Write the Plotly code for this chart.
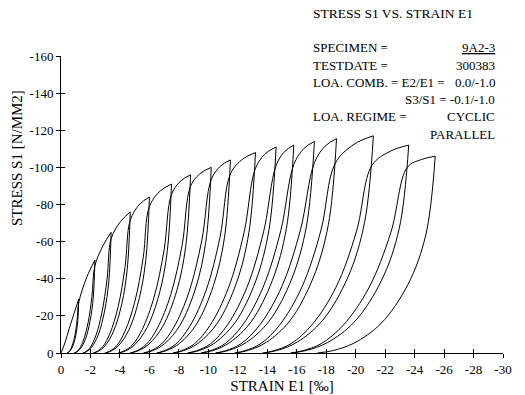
import plotly.graph_objects as go

# ---- data (strain in per mille, stress in N/mm2) ----
# loading / reloading branches: residual strain -> crossing point -> envelope -> peak
reload_e = [
    [0, -0.2, -0.65, -1.2],
    [-0.4, -0.48, -0.61, -0.76, -0.94, -1.09, -1.2, -1.75, -2.3],
    [-0.9, -1.04, -1.26, -1.53, -1.84, -2.10, -2.3, -2.85, -3.4],
    [-1.5, -1.69, -1.99, -2.36, -2.77, -3.13, -3.4, -4.05, -4.7],
    [-2.2, -2.45, -2.85, -3.33, -3.88, -4.35, -4.7, -5.35, -6.0],
    [-3.0, -3.3, -3.78, -4.35, -5.01, -5.58, -6.0, -6.75, -7.5],
    [-3.9, -4.26, -4.84, -5.52, -6.31, -7.0, -7.5, -8.15, -8.8],
    [-4.7, -5.11, -5.77, -6.55, -7.45, -8.23, -8.8, -9.5, -10.2],
    [-5.6, -6.06, -6.8, -7.67, -8.68, -9.56, -10.2, -10.85, -11.5],
    [-6.5, -7.0, -7.8, -8.75, -9.85, -10.8, -11.5, -12.35, -13.2],
    [-7.6, -8.16, -9.06, -10.12, -11.35, -12.42, -13.2, -13.9, -14.6],
    [-8.6, -9.2, -10.16, -11.3, -12.62, -13.76, -14.6, -15.2, -15.8],
    [-9.5, -10.13, -11.14, -12.34, -13.72, -14.92, -15.8, -16.5, -17.2],
    [-10.5, -11.17, -12.24, -13.52, -14.99, -16.26, -17.2, -17.95, -18.7],
    [-11.8, -12.48, -13.57, -14.86, -16.36, -17.65, -18.6, -19.9, -21.2],
    [-13.7, -14.44, -15.62, -17.03, -18.66, -20.06, -21.1, -22.35, -23.6],
    [-15.6, -16.39, -17.65, -19.16, -20.89, -22.39, -23.5, -24.45, -25.4],
]
reload_s = [
    [0, -4, -15.5, -29],
    [0, -0.32, -1.35, -4.05, -9.45, -17.55, -27, -40.8, -50],
    [0, -0.56, -2.35, -7.05, -16.45, -30.55, -47, -57.8, -65],
    [0, -0.74, -3.08, -9.23, -21.5, -40.0, -61.5, -70.9, -76],
    [0, -0.86, -3.58, -10.7, -25.0, -46.5, -71.5, -80.25, -84],
    [0, -0.95, -3.95, -11.85, -27.65, -51.35, -79, -87.4, -91],
    [0, -1.03, -4.28, -12.8, -29.9, -55.6, -85.5, -92.85, -96],
    [0, -1.08, -4.5, -13.5, -31.5, -58.5, -90, -97, -100],
    [0, -1.12, -4.68, -14.0, -32.7, -60.8, -93.5, -100.85, -104],
    [0, -1.16, -4.83, -14.5, -33.8, -62.7, -96.5, -104.55, -108],
    [0, -1.19, -4.98, -14.9, -34.8, -64.7, -99.5, -107.55, -111],
    [0, -1.21, -5.05, -15.15, -35.35, -65.65, -101, -108.7, -112],
    [0, -1.22, -5.08, -15.2, -35.5, -66.0, -101.5, -110.25, -114],
    [0, -1.23, -5.13, -15.4, -35.9, -66.6, -102.5, -111.6, -115.5],
    [0, -1.22, -5.1, -15.3, -35.7, -66.3, -102, -112.5, -117],
    [0, -1.21, -5.05, -15.15, -35.35, -65.65, -101, -108.7, -112],
    [0, -1.2, -5, -15, -35, -65, -100, -104.2, -106],
]
# unloading branches: peak -> residual strain
unload_e = [
    [-1.2, -1.14, -1.02, -0.83, -0.65, -0.5, -0.4],
    [-2.3, -2.19, -1.98, -1.66, -1.33, -1.08, -0.9],
    [-3.4, -3.25, -2.96, -2.53, -2.09, -1.75, -1.5],
    [-4.7, -4.5, -4.13, -3.55, -2.98, -2.53, -2.2],
    [-6.0, -5.76, -5.31, -4.62, -3.93, -3.39, -3.0],
    [-7.5, -7.21, -6.67, -5.84, -5.02, -4.37, -3.9],
    [-8.8, -8.47, -7.86, -6.91, -5.97, -5.23, -4.7],
    [-10.2, -9.83, -9.14, -8.08, -7.03, -6.2, -5.6],
    [-11.5, -11.1, -10.35, -9.2, -8.05, -7.15, -6.5],
    [-13.2, -12.75, -11.91, -10.62, -9.34, -8.33, -7.6],
    [-14.6, -14.12, -13.22, -11.84, -10.46, -9.38, -8.6],
    [-15.8, -15.3, -14.35, -12.9, -11.45, -10.32, -9.5],
    [-17.2, -16.66, -15.66, -14.12, -12.58, -11.37, -10.5],
    [-18.7, -18.15, -17.11, -15.53, -13.94, -12.7, -11.8],
    [-21.2, -20.6, -19.48, -17.75, -16.03, -14.68, -13.7],
    [-23.6, -22.96, -21.76, -19.92, -18.08, -16.64, -15.6],
    [-25.4, -24.76, -23.56, -21.72, -19.88, -18.44, -17.4],
]
unload_s = [
    [-29, -17.4, -10.15, -4.35, -1.45, -0.35, 0],
    [-50, -30, -17.5, -7.5, -2.5, -0.6, 0],
    [-65, -39, -22.75, -9.75, -3.25, -0.78, 0],
    [-76, -45.6, -26.6, -11.4, -3.8, -0.91, 0],
    [-84, -50.4, -29.4, -12.6, -4.2, -1.0, 0],
    [-91, -54.6, -31.85, -13.65, -4.55, -1.09, 0],
    [-96, -57.6, -33.6, -14.4, -4.8, -1.15, 0],
    [-100, -60, -35, -15, -5, -1.2, 0],
    [-104, -62.4, -36.4, -15.6, -5.2, -1.25, 0],
    [-108, -64.8, -37.8, -16.2, -5.4, -1.3, 0],
    [-111, -66.6, -38.85, -16.65, -5.55, -1.33, 0],
    [-112, -67.2, -39.2, -16.8, -5.6, -1.34, 0],
    [-114, -68.4, -39.9, -17.1, -5.7, -1.37, 0],
    [-115.5, -69.3, -40.4, -17.3, -5.78, -1.39, 0],
    [-117, -70.2, -40.95, -17.55, -5.85, -1.4, 0],
    [-112, -67.2, -39.2, -16.8, -5.6, -1.34, 0],
    [-106, -63.6, -37.1, -15.9, -5.3, -1.27, 0],
]

x_tickvals = [0, -2, -4, -6, -8, -10, -12, -14, -16, -18, -20, -22, -24, -26, -28, -30]
x_ticktext = ["0", "-2", "-4", "-6", "-8", "-10", "-12", "-14", "-16", "-18",
              "-20", "-22", "-24", "-26", "-28", "-30"]
y_tickvals = [0, -20, -40, -60, -80, -100, -120, -140, -160]
y_ticktext = ["0", "-20", "-40", "-60", "-80", "-100", "-120", "-140", "-160"]

# ---- build a single path with gaps between branches ----
xs, ys = [], []
for re_, rs_, ue_, us_ in zip(reload_e, reload_s, unload_e, unload_s):
    xs += re_ + [None] + ue_ + [None]
    ys += rs_ + [None] + us_ + [None]

FONT = "Liberation Serif, Times New Roman, serif"

fig = go.Figure()
fig.add_trace(go.Scatter(
    x=xs, y=ys, mode="lines",
    line=dict(color="black", width=1, shape="spline", smoothing=1.0),
    connectgaps=False, hoverinfo="skip", showlegend=False,
))
# invisible trace for the overlay axes (inner halves of the crossing ticks)
fig.add_trace(go.Scatter(x=[0], y=[0], xaxis="x2", yaxis="y2", mode="markers",
                         marker=dict(opacity=0), showlegend=False, hoverinfo="skip"))

axis_common = dict(showgrid=False, zeroline=False, color="black",
                   tickfont=dict(family=FONT, size=13, color="black"))

fig.update_layout(
    width=525, height=395,
    margin=dict(l=61, r=22, t=56, b=42, autoexpand=False),
    paper_bgcolor="white", plot_bgcolor="white",
    font=dict(family=FONT, color="black"),
    xaxis=dict(range=[0, -30], tickmode="array", tickvals=x_tickvals, ticktext=x_ticktext,
               ticks="outside", ticklen=4, tickwidth=1, tickcolor="black",
               showline=True, linecolor="black", linewidth=1,
               title=dict(text="STRAIN E1 [‰]", font=dict(family=FONT, size=15), standoff=4),
               automargin=False, **axis_common),
    yaxis=dict(range=[0, -160], tickmode="array", tickvals=y_tickvals, ticktext=y_ticktext,
               ticks="outside", ticklen=4, tickwidth=1, tickcolor="black",
               showline=True, linecolor="black", linewidth=1,
               automargin=False, **axis_common),
    xaxis2=dict(overlaying="x", anchor="y", side="bottom", range=[0, -30],
                tickmode="array", tickvals=x_tickvals, ticks="inside", ticklen=4,
                tickwidth=1, tickcolor="black", showticklabels=False, showline=False,
                showgrid=False, zeroline=False),
    yaxis2=dict(overlaying="y", anchor="x", side="left", range=[0, -160],
                tickmode="array", tickvals=y_tickvals, ticks="inside", ticklen=4,
                tickwidth=1, tickcolor="black", showticklabels=False, showline=False,
                showgrid=False, zeroline=False),
)

# ---- texts (positions in pixels converted to paper coordinates) ----
PL, PW, PB, PH = 61, 442, 353, 297


def px(x):
    return (x - PL) / PW


def py(y):
    return (PB - y) / PH


# y-axis title (placed above the plot centre, as in the reference)
fig.add_annotation(text="STRESS S1 [N/MM2]", xref="paper", yref="paper",
                   x=px(17), y=py(158), textangle=-90, xanchor="center", yanchor="middle",
                   showarrow=False, font=dict(family=FONT, size=15, color="black"))

texts = [
    ("STRESS S1 VS. STRAIN E1", 311, 14, "left", 13.5),
    ("SPECIMEN =", 311, 48, "left", 13),
    ("<u>9A2-3</u>", 497, 48, "right", 13),
    ("TESTDATE =", 311, 65, "left", 13),
    ("300383", 497, 65, "right", 13),
    ("LOA. COMB. = E2/E1 =", 311, 82, "left", 13),
    ("0.0/-1.0", 497, 82, "right", 13),
    ("S3/S1 = -0.1/-1.0", 497, 99, "right", 13),
    ("LOA. REGIME =", 311, 116, "left", 13),
    ("CYCLIC", 497, 116, "right", 13),
    ("PARALLEL", 497, 134, "right", 13),
]
for t, x, y, al, fs in texts:
    fig.add_annotation(text=t, xref="paper", yref="paper", x=px(x), y=py(y),
                       xanchor=al, yanchor="middle", showarrow=False,
                       font=dict(family=FONT, size=fs, color="black"))

fig.write_html("out.html")
